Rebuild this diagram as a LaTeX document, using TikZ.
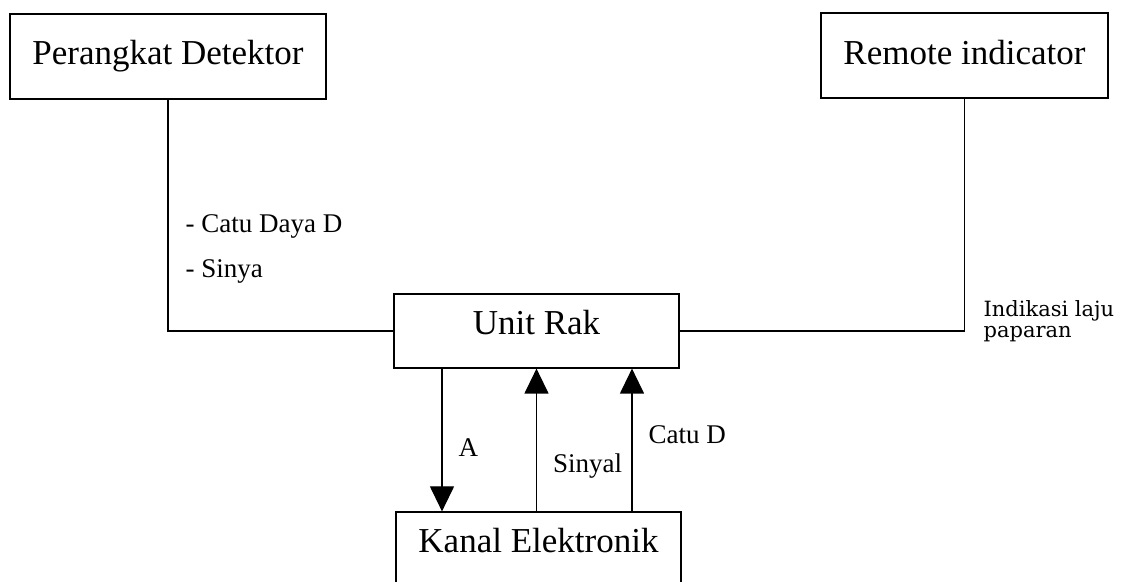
\documentclass[tikz,border=0pt]{standalone}
\usepackage{fontspec}
\setmainfont{Liberation Serif}
\newfontfamily\dejaserif{DejaVu Serif}
\usetikzlibrary{arrows.meta}

\begin{document}
\begin{tikzpicture}[x=0.5pt,y=-0.5pt,line width=0.6pt,>={Triangle[length=12.5pt,width=12pt]},
    box/.style={draw,inner xsep=0pt,inner ysep=0pt,anchor=base,font=\fontsize{17.5}{20}\selectfont},
    lbl/.style={inner sep=0pt,font=\fontsize{13.5}{16}\selectfont},
    ilbl/.style={inner sep=0pt,anchor=west,align=left,font=\dejaserif\fontsize{10.5}{13}\selectfont}]
    \useasboundingbox (0,0) rectangle (1121,582);
    \clip (0,0) rectangle (1121,582);
    \node[box,minimum width=158pt,text height=25.5pt,text depth=17pt] (det) at (168,65) {Perangkat Detektor};
    \node[box,minimum width=143.5pt,text height=26pt,text depth=16.5pt] (rem) at (964.5,65) {Remote indicator};
    \node[box,minimum width=142.5pt,text height=20.5pt,text depth=16.5pt] (rak) at (536.5,335) {Unit Rak};
    \node[box,minimum width=142.5pt,text height=20.5pt,text depth=24pt] (kan) at (538.5,553) {Kanal Elektronik};

    \node[lbl,anchor=base west] (catu) at (185,233) {- Catu Daya D};
    \node[lbl,anchor=base west] (sinya) at (185,278) {- Sinya};
    \node[ilbl] (ind) at (983,321) {Indikasi laju\\[-2.3pt]paparan};

    \coordinate (atop) at ([xshift=-47.25pt]rak.south);
    \coordinate (ctop) at ([xshift=47.75pt]rak.south);

    \draw (det.south) |- (rak.west);
    \draw (rem.south) |- (rak.east);
    \draw[->] (atop) -- node[lbl,right=8pt,pos=0.55] {A} (atop |- kan.north);
    \draw[->] (kan.north -| rak.south) -- node[lbl,right=8pt,pos=0.32] {Sinyal} (rak.south);
    \draw[->] (kan.north -| ctop) -- node[lbl,right=8pt,pos=0.54] {Catu D} (ctop);
\end{tikzpicture}
\end{document}
